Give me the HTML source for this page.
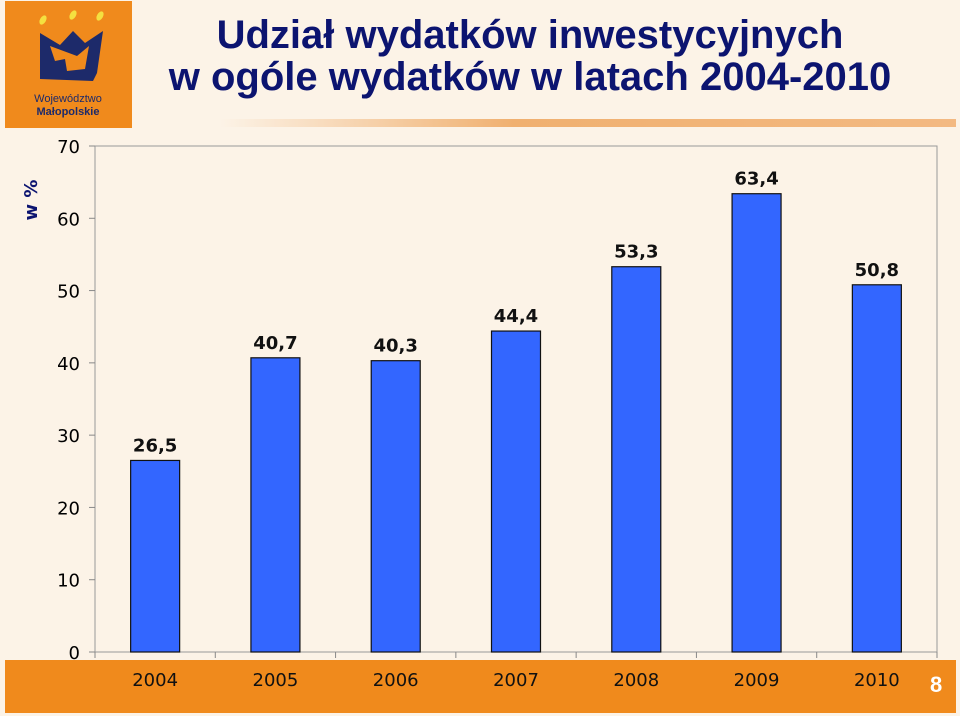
<!DOCTYPE html>
<html><head><meta charset="utf-8"><style>
body{margin:0;width:960px;height:716px;background:#fcf3e7;overflow:hidden;font-family:"Liberation Sans",sans-serif;position:relative}
.t{position:absolute;left:80px;width:900px;text-align:center;color:#0c1470;font-weight:bold;font-size:40px;line-height:42px}
</style></head><body>
<div style="position:absolute;left:5px;top:1px;width:127px;height:127px;background:#f08a1c">
<svg width="127" height="127"><g fill="#f4e040"><ellipse cx="38" cy="19" rx="3" ry="5" transform="rotate(30 38 19)"/><ellipse cx="68" cy="14" rx="3" ry="5" transform="rotate(30 68 14)"/><ellipse cx="95" cy="15" rx="3" ry="5" transform="rotate(30 95 15)"/></g>
<path d="M35 32 L55 44 L68 30 L80 42 L98 30 L92 72 L88 80 L35 78 Z M45 45 L50 60 L60 58 L62 70 L80 68 L84 45 L72 55 Z" fill="#1d2a6a" fill-rule="evenodd"/>
<text x="63" y="101" text-anchor="middle" font-size="11" fill="#1d2a6a" font-family="Liberation Sans">Województwo</text>
<text x="63" y="114" text-anchor="middle" font-size="11" font-weight="bold" fill="#1d2a6a" font-family="Liberation Sans">Małopolskie</text></svg></div>
<div class="t" style="top:14px">Udział wydatków inwestycyjnych<br>w ogóle wydatków w latach 2004-2010</div>
<div style="position:absolute;left:220px;top:119px;width:736px;height:8px;background:linear-gradient(90deg,rgba(240,180,120,0),#f0b070 40%,#f3b982)"></div>
<div style="position:absolute;left:5px;top:660px;width:951px;height:53px;background:#f08a1c"></div>
<div style="position:absolute;left:930px;top:672px;color:#fff;font-weight:bold;font-size:22px">8</div>
<svg id="c" width="960" height="716" style="position:absolute;left:0;top:0"></svg>
<script>
const categories=["2004","2005","2006","2007","2008","2009","2010"];
const values=[26.5,40.7,40.3,44.4,53.3,63.4,50.8];
const labels=["26,5","40,7","40,3","44,4","53,3","63,4","50,8"];
const ticks=[0,10,20,30,40,50,60,70];
const L=95,R=937,T=146,B=652,max=70;
const y=v=>B-(B-T)*v/max, bw=(R-L)/categories.length, x=i=>L+bw*i;
const s=document.getElementById('c'),ns="http://www.w3.org/2000/svg";
function mk(t,a,txt){const e=document.createElementNS(ns,t);for(const k in a)e.setAttribute(k,a[k]);if(txt!=null)e.textContent=txt;s.appendChild(e);return e;}
let e=mk('rect',{x:L,y:T,width:R-L,height:B-T,fill:'none',stroke:'#999','stroke-width':1});


ticks.forEach(t=>{
 let l=mk('line',{x1:L-6,x2:L,y1:y(t),y2:y(t),stroke:'#888'});
 
 
 let tx=mk('text',{x:80,y:y(t)+7,'text-anchor':'end','font-size':18,fill:'#000','font-family':'DejaVu Sans'},String(t));
 
 
});
for(let i=0;i<=categories.length;i++){let l=mk('line',{x1:x(i),x2:x(i),y1:B,y2:B+6,stroke:'#888'});
 
 }
categories.forEach((c,i)=>{
 const cx=x(i)+bw/2;
 let r=mk('rect',{x:cx-24.5,y:y(values[i]),width:49,height:B-y(values[i]),fill:'#3366ff',stroke:'#111','stroke-width':1.2});
 
 
 let v=mk('text',{x:cx,y:y(values[i])-9,'text-anchor':'middle','font-size':18,'font-weight':'bold',fill:'#111','font-family':'DejaVu Sans'},labels[i]);
 
 
 let xt=mk('text',{x:cx,y:686,'text-anchor':'middle','font-size':18,fill:'#111','font-family':'DejaVu Sans'},c);
 
 
});
let yt=mk('text',{x:0,y:0,transform:'translate(37,200) rotate(-90)','text-anchor':'middle','font-size':18,'font-weight':'bold',fill:'#0c1470','font-family':'DejaVu Sans'},'w %');


</script>
</body></html>
